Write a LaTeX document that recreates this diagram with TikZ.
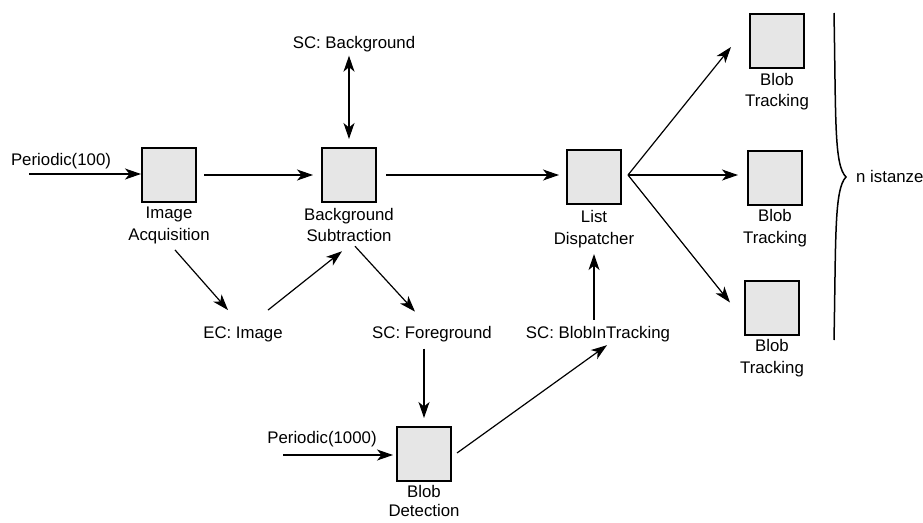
\documentclass[tikz,border=0pt]{standalone}
\usepackage{fontspec}
\setmainfont{Liberation Sans}
\usetikzlibrary{arrows.meta,calc}

\definecolor{boxfill}{HTML}{E6E6E6}

\tikzset{
  task/.style={draw=black, fill=boxfill, line width=2pt, minimum width=54pt,
    minimum height=54pt, inner sep=0pt},
  lbl/.style={anchor=north, align=center, inner sep=0pt},
  txt/.style={anchor=base, inner sep=0pt},
  arr/.style={line width=1.2pt, -{Stealth[length=16pt, width=11pt, inset=4.5pt]}},
  dbl/.style={line width=1.2pt, {Stealth[length=16pt, width=11pt, inset=4.5pt]}-{Stealth[length=16pt, width=11pt, inset=4.5pt]}}
}

\begin{document}
\begin{tikzpicture}[x=1pt, y=-1pt, font=\fontsize{16.8}{21.5}\selectfont]
\useasboundingbox (0,0) rectangle (923,522);

% task boxes
\node[task] (ia)  at (169,175) {};
\node[task] (bs)  at (349,175) {};
\node[task] (ld)  at (594,176.5) {};
\node[task] (bt1) at (777,41) {};
\node[task] (bt2) at (775,177.5) {};
\node[task] (bt3) at (772,307.5) {};
\node[task] (bd)  at (424,454) {};

% task names
\node[lbl] (ial)  at ($(ia.south)+(0,4)$)  {Image\\Acquisition};
\node[lbl] (bsl)  at ($(bs.south)+(0,5)$)  {Background\\Subtraction};
\node[lbl] (ldl)  at ($(ld.south)+(0,6)$)  {List\\Dispatcher};
\node[lbl] (bt1l) at ($(bt1.south)+(0,4)$) {Blob\\Tracking};
\node[lbl] (bt2l) at ($(bt2.south)+(0,4)$) {Blob\\Tracking};
\node[lbl] (bt3l) at ($(bt3.south)+(0,4)$) {Blob\\Tracking};
\node[lbl, font=\fontsize{16.8}{19.5}\selectfont] (bdl) at ($(bd.south)+(0,3)$) {Blob\\Detection};

% triggers and shared/event channels
\node[txt] (p100)  at (61,165)  {Periodic(100)};
\node[txt] (p1000) at (322,443) {Periodic(1000)};
\node[txt] (bgsc)  at (354,48)  {SC: Background};
\node[txt] (ec)    at (243,338) {EC: Image};
\node[txt] (fg)    at (432,338) {SC: Foreground};
\node[txt] (bit)   at (598,338) {SC: BlobInTracking};
\node[txt, anchor=base west] (ni) at (856,182) {n istanze};

\coordinate (p100s)  at (29,174);
\coordinate (p1000s) at (283,455);
\coordinate (fan)    at ($(ld.east)+(6,-1.5)$);

% connectors
\draw[arr] (p100s) -- (p100s -| ia.west);
\draw[arr, shorten <=7pt, shorten >=8pt] (ia.east) -- (bs.west);
\draw[arr, shorten <=9pt, shorten >=7pt] (bs.east) -- (bs.east -| ld.west);
\draw[dbl, shorten <=4pt, shorten >=8pt] (bgsc.south -| bs.north) -- (bs.north);
\draw[arr] ($(ial.south)+(6,6)$) -- ($(ec.north)+(-15,-16)$);
\draw[arr] ($(ec.north)+(25,-16)$) -- ($(bsl.south)+(-7,9)$);
\draw[arr] ($(bsl.south)+(6,4)$) -- ($(fg.north)+(-17,-14)$);
\draw[arr, shorten <=7pt, shorten >=8pt] (fg.south -| bd.north) -- (bd.north);
\draw[arr, shorten >=3pt] (p1000s) -- (p1000s -| bd.west);
\draw[arr] ($(bd.east)+(5,-1)$) -- ($(bit.south)+(9,3.5)$);
\draw[arr, shorten <=6pt, shorten >=6pt] (bit.north -| ldl.south) -- (ldl.south);
\draw[arr] (fan) -- ($(bt1.west)+(-18,6)$);
\draw[arr, shorten >=9pt] (fan) -- (fan -| bt2.west);
\draw[arr] (fan) -- ($(bt3.west)+(-14,-5)$);

% brace grouping the tracking instances
\draw[line width=1.5pt] (834,13) .. controls (836,120) and (834,165) .. (846,177)
  .. controls (834,189) and (836,240) .. (834,340);
\end{tikzpicture}
\end{document}
